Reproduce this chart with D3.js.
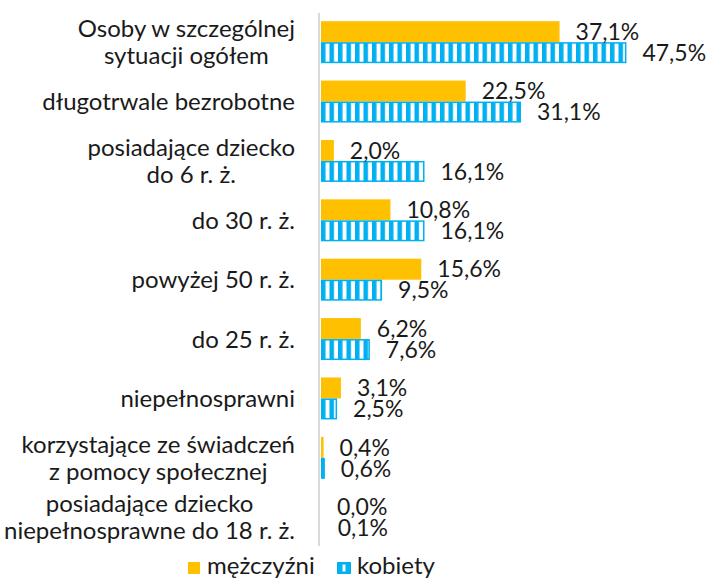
<!DOCTYPE html>
<html><head><meta charset="utf-8">
<script src="https://cdn.jsdelivr.net/npm/d3@7"></script>
<style>
html,body{margin:0;padding:0;background:#fff;}
text{font-family:Lato,"DejaVu Sans",sans-serif;}
</style></head>
<body>
<svg id="chart" width="708" height="579"></svg>
<script>
const categories = [
  ["Osoby w szczególnej", "sytuacji ogółem"],
  ["długotrwale bezrobotne"],
  ["posiadające dziecko", "do 6 r. ż."],
  ["do 30 r. ż."],
  ["powyżej 50 r. ż."],
  ["do 25 r. ż."],
  ["niepełnosprawni"],
  ["korzystające ze świadczeń", "z pomocy społecznej"],
  ["posiadające dziecko", "niepełnosprawne do 18 r. ż."]
];
const men   = [37.1, 22.5, 2.0, 10.8, 15.6, 6.2, 3.1, 0.4, 0.0];
const women = [47.5, 31.1, 16.1, 16.1, 9.5, 7.6, 2.5, 0.6, 0.1];
const seriesNames = ["mężczyźni", "kobiety"];

const YELLOW = "#FFC000", BLUE = "#00B0F0", TEXT = "#1a1a1a";
const FS = 23, FSC = 24;
const svg = d3.select("#chart");

const x0 = 321;
const x = d3.scaleLinear().domain([0, 50]).range([x0, x0 + 321.5]);
const y = d3.scaleBand().domain(d3.range(categories.length)).range([3.8, 555.6]).padding(0.293);
const sub = d3.scaleBand().domain([0, 1]).range([0, y.bandwidth()]);

const defs = svg.append("defs");
const pat = defs.append("pattern").attr("id", "stripes")
  .attr("patternUnits", "userSpaceOnUse").attr("x", x0).attr("y", 0)
  .attr("width", 8.5).attr("height", 10);
pat.append("rect").attr("width", 8.5).attr("height", 10).attr("fill", "#fff");
pat.append("rect").attr("width", 4.5).attr("height", 10).attr("fill", BLUE);

// axis line
svg.append("line").attr("x1", 319).attr("x2", 319).attr("y1", 13).attr("y2", 546)
  .attr("stroke", "#d9d9d9").attr("stroke-width", 2);

const data = categories.map((c, i) => ({c, i, m: men[i], k: women[i]}));

const g = svg.append("g");
// men bars
g.selectAll("rect.m").data(data).join("rect").attr("class", "m")
  .attr("x", x(0)).attr("y", d => y(d.i) + sub(0))
  .attr("width", d => x(d.m) - x(0)).attr("height", sub.bandwidth())
  .attr("fill", YELLOW);
// women bars
g.selectAll("rect.k").data(data).join("rect").attr("class", "k")
  .attr("x", x(0) + 0.75).attr("y", d => y(d.i) + sub(1) + 0.75)
  .attr("width", d => Math.max(0, x(d.k) - x(0) - 1.5)).attr("height", sub.bandwidth() - 1.5)
  .attr("fill", "url(#stripes)").attr("stroke", BLUE).attr("stroke-width", 1.5);

const fmt = v => v.toFixed(1).replace(".", ",") + "%";
// value labels
g.selectAll("text.vm").data(data).join("text").attr("class", "vm")
  .attr("x", d => x(d.m) + 16).attr("y", d => y(d.i) + sub(0) + sub.bandwidth() / 2)
  .attr("dy", "0.36em").attr("font-size", FS).attr("fill", TEXT).text(d => fmt(d.m));
g.selectAll("text.vk").data(data).join("text").attr("class", "vk")
  .attr("x", d => x(d.k) + 16).attr("y", d => y(d.i) + sub(1) + sub.bandwidth() / 2)
  .attr("dy", "0.36em").attr("font-size", FS).attr("fill", TEXT).text(d => fmt(d.k));

// category labels
const rightEdge = 295, lh = 27;
data.forEach(d => {
  const t = svg.append("text").attr("font-size", FSC).attr("fill", TEXT).attr("text-anchor", "middle");
  const n = d.c.length;
  const cy = y(d.i) + y.bandwidth() / 2;
  d.c.forEach((line, j) => {
    t.append("tspan").attr("y", cy + (j - (n - 1) / 2) * lh).attr("dy", "0.36em").text(line);
  });
  let w = 0;
  t.selectAll("tspan").each(function(){ w = Math.max(w, this.getComputedTextLength()); });
  t.selectAll("tspan").attr("x", rightEdge - w / 2);
});

// legend
const leg = svg.append("g");
leg.append("rect").attr("x", 188).attr("y", 562).attr("width", 12).attr("height", 12).attr("fill", YELLOW);
leg.append("text").attr("x", 207).attr("y", 574).attr("font-size", FSC).attr("fill", TEXT).text(seriesNames[0]);
leg.append("rect").attr("x", 337).attr("y", 562).attr("width", 14).attr("height", 12).attr("fill", BLUE);
leg.append("rect").attr("x", 342.5).attr("y", 564.5).attr("width", 3).attr("height", 7).attr("fill", "#fff");
leg.append("text").attr("x", 357).attr("y", 574).attr("font-size", FSC).attr("fill", TEXT).text(seriesNames[1]);
</script>
</body></html>
